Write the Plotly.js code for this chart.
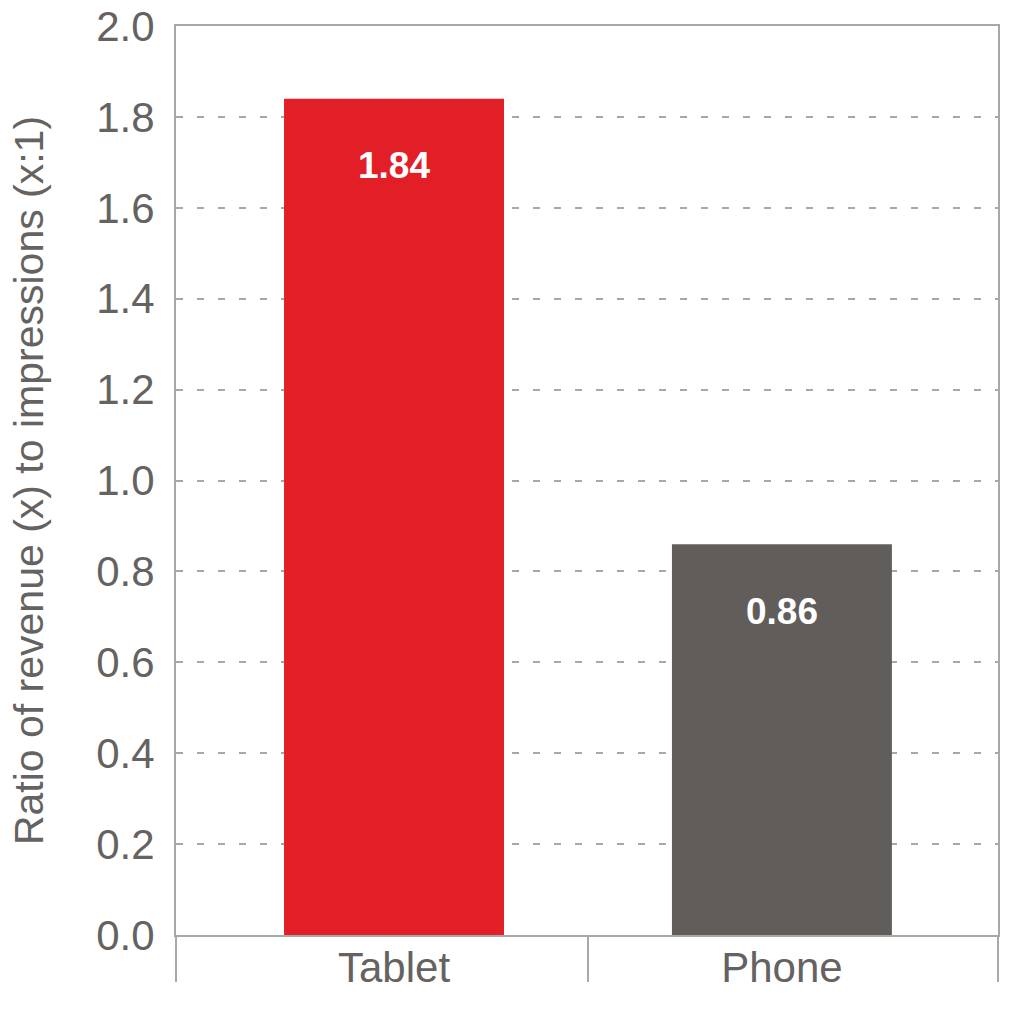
<!DOCTYPE html>
<html>
<head>
<meta charset="utf-8">
<script src="https://cdn.plot.ly/plotly-3.0.1.min.js"></script>
<style>html,body{margin:0;padding:0;background:#fff;}#chart{width:1017px;height:1015px;}</style>
</head>
<body>
<div id="chart"></div>
<script>
const categories = ["Tablet", "Phone"];
const values = [1.84, 0.86];
const valueLabels = ["1.84", "0.86"];
const barColors = ["#E21F26", "#615D5B"];
const yTickVals = [0, 0.2, 0.4, 0.6, 0.8, 1.0, 1.2, 1.4, 1.6, 1.8, 2.0];
const yTickText = ["0.0", "0.2", "0.4", "0.6", "0.8", "1.0", "1.2", "1.4", "1.6", "1.8", "2.0"];
const yTitle = "Ratio of revenue (x) to impressions (x:1)";
const xRange = [-0.562, 1.557];
const xBoundaryTicks = [-0.562, 0.5, 1.557];

const axisColor = "#A8A8A8";
const textColor = "#656262";
const fontFam = "Liberation Sans, Arial, sans-serif";

const trace = {
  type: "bar",
  x: categories,
  y: values,
  marker: {color: barColors, line: {width: 0}},
  width: 0.567,
  hoverinfo: "none"
};
const tickTrace = {type: "scatter", x: [], y: [], xaxis: "x2", yaxis: "y", hoverinfo: "none"};

const annotations = categories.map((c, i) => ({
  x: c, y: values[i], xref: "x", yref: "y",
  text: "<b>" + valueLabels[i] + "</b>",
  showarrow: false, yanchor: "middle", yshift: -67,
  font: {family: fontFam, size: 37, color: "#FFFFFF"}
}));

const layout = {
  width: 1017, height: 1015,
  margin: {l: 176, r: 19, t: 26, b: 80},
  paper_bgcolor: "#FFFFFF", plot_bgcolor: "#FFFFFF",
  showlegend: false,
  xaxis: {
    type: "category", range: xRange,
    showline: true, linecolor: axisColor, linewidth: 2, mirror: true,
    ticks: "", ticklabelstandoff: -5,
    showgrid: false, zeroline: false,
    tickfont: {family: fontFam, size: 42, color: textColor}
  },
  xaxis2: {
    type: "linear", overlaying: "x", side: "bottom", range: xRange,
    tickvals: xBoundaryTicks, showticklabels: false,
    ticks: "outside", ticklen: 46, tickwidth: 2, tickcolor: axisColor,
    showline: false, showgrid: false, zeroline: false
  },
  yaxis: {
    range: [0, 2.0],
    tickvals: yTickVals, ticktext: yTickText,
    showline: true, linecolor: axisColor, linewidth: 2, mirror: true,
    ticks: "", ticklabelstandoff: 11,
    showgrid: true, gridcolor: axisColor, gridwidth: 2, griddash: "7px,14px",
    zeroline: false,
    tickfont: {family: fontFam, size: 42, color: textColor},
    title: {text: yTitle, font: {family: fontFam, size: 41, color: textColor}, standoff: 40}
  },
  annotations: annotations
};

Plotly.newPlot("chart", [trace, tickTrace], layout, {displayModeBar: false, staticPlot: true});
</script>
</body>
</html>
